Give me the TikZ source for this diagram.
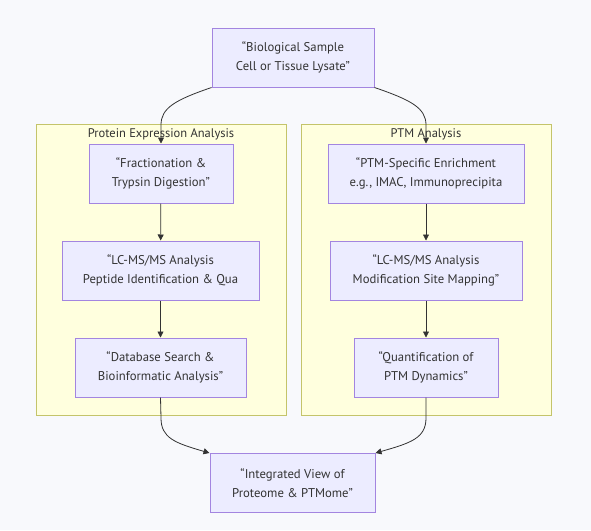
\documentclass[tikz,border=0pt]{standalone}
\usepackage{fontspec}
\setmainfont{PT Sans}
\usetikzlibrary{arrows.meta,positioning}
\definecolor{bg}{HTML}{F8F9FC}
\definecolor{nodefill}{HTML}{ECECFF}
\definecolor{nodeline}{HTML}{9370DB}
\definecolor{clusterfill}{HTML}{FFFFDE}
\definecolor{clusterline}{HTML}{C4C46A}
\definecolor{txt}{HTML}{333333}

\begin{document}
\begin{tikzpicture}[
  x=1pt, y=-1pt,
  >={Triangle[length=6pt,width=6pt]},
  stepbox/.style={draw=nodeline!85, fill=nodefill, line width=1pt, minimum height=59pt, align=center, inner sep=0pt, font=\fontsize{12.7}{19}\selectfont, text=txt},
  cluster/.style={draw=clusterline, fill=clusterfill, line width=1pt, minimum width=250pt, minimum height=291pt, inner sep=0pt},
  ctitle/.style={font=\fontsize{12.5}{14}\selectfont, text=txt, anchor=north},
  arr/.style={->, color=txt, line width=0.8pt},
]

\fill[bg] (0,0) rectangle (591,530);

% clusters
\node[cluster] (protbox) at (161,269.5) {};
\node[ctitle] at ([yshift=-2pt]protbox.north) {Protein Expression Analysis};
\node[cluster] (ptmbox) at (426,269.5) {};
\node[ctitle] at ([yshift=-2pt]ptmbox.north) {PTM Analysis};

% nodes
\node[stepbox, minimum width=162pt] (sample) at (293,57.5) {“Biological Sample\\Cell or Tissue Lysate”};

\node[stepbox, minimum width=144pt] (fract) at (161,173.5) {“Fractionation \&\\Trypsin Digestion”};
\node[stepbox, minimum width=197pt] (lcprot) at (160.5,270.5) {“LC-MS/MS Analysis\\Peptide Identification \& Qua};
\node[stepbox, minimum width=171pt] (dbsearch) at (160.5,367.5) {“Database Search \&\\Bioinformatic Analysis”};

\node[stepbox, minimum width=196pt] (enrich) at (426,173.5) {“PTM-Specific Enrichment\\e.g., IMAC, Immunoprecipita};
\node[stepbox, minimum width=192pt] (lcptm) at (426,270.5) {“LC-MS/MS Analysis\\Modification Site Mapping”};
\node[stepbox, minimum width=144pt] (quant) at (426,367.5) {“Quantification of\\PTM Dynamics”};

\node[stepbox, minimum width=165pt] (integ) at (292.5,483) {“Integrated View of\\Proteome \& PTMome”};

% edges
\draw[arr] (sample.south west) .. controls (175,100) and (161,108) .. (161,125) -- (fract.north);
\draw[arr] (sample.south east) .. controls (411,100) and (426,108) .. (426,125) -- (enrich.north);
\draw[arr] (fract) -- (lcprot);
\draw[arr] (lcprot) -- (dbsearch);
\draw[arr] (enrich) -- (lcptm);
\draw[arr] (lcptm) -- (quant);
\draw[arr] (dbsearch.south) -- (161,418) .. controls (161,438) and (175,443) .. (integ.north west);
\draw[arr] (quant.south) -- (426,418) .. controls (426,438) and (411,443) .. (integ.north east);

\end{tikzpicture}
\end{document}
